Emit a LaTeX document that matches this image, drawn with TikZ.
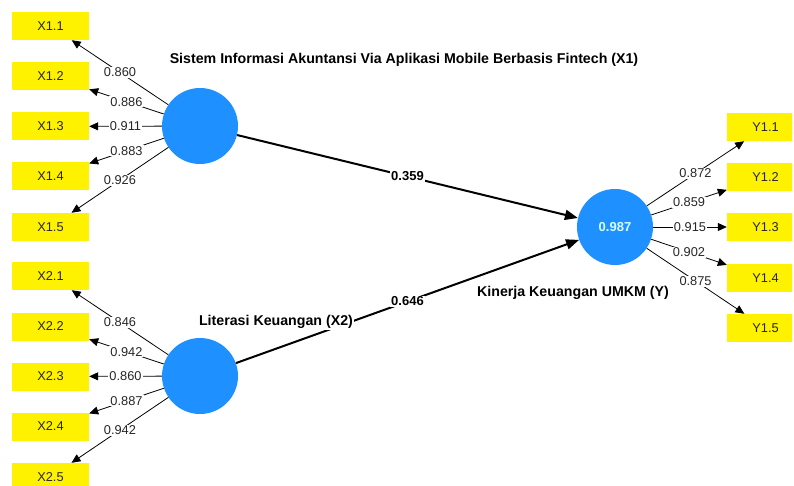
\documentclass[tikz,border=0pt]{standalone}
\usepackage{fontspec}
\setmainfont{Liberation Sans}
\usetikzlibrary{arrows.meta}
\definecolor{lvblue}{RGB}{30,144,255}
\definecolor{mvyellow}{RGB}{255,242,0}
\definecolor{rsqtext}{RGB}{215,255,255}
\tikzset{
  mv/.style={fill=mvyellow, minimum width=77pt, minimum height=28pt, inner sep=0pt, text=black!85},
  lv/.style={circle, fill=lvblue, minimum size=76pt, inner sep=0pt},
  load/.style={-{Triangle[length=9pt,width=8pt]}, line width=0.8pt},
  coef/.style={-{Triangle[length=13pt,width=10pt]}, line width=2pt},
  val/.style={fill=white, inner sep=1pt, text=black!85},
  coefval/.style={val, text=black, font=\fontsize{13}{15}\selectfont\bfseries},
  lvname/.style={fill=white, inner sep=1pt, font=\fontsize{14.2}{17}\selectfont\bfseries},
}
\begin{document}
\begin{tikzpicture}[x=1pt, y=-1pt, font=\fontsize{12.8}{15}\selectfont, line join=round]
  \useasboundingbox (0,0) rectangle (794,486);
  \begin{scope}
    \clip (0,0) rectangle (792,486);
    % latent variables
    \node[lv] (X1) at (200,126) {};
    \node[lv] (X2) at (200,376) {};
    \node[lv, text=rsqtext, font=\fontsize{13}{15}\selectfont\bfseries] (Y) at (615,227) {0.987};
    % indicators of X1
    \node[mv] (x11) at (50.5,26) {X1.1};
    \node[mv] (x12) at (50.5,76.5) {X1.2};
    \node[mv] (x13) at (50.5,126.5) {X1.3};
    \node[mv] (x14) at (50.5,176.5) {X1.4};
    \node[mv] (x15) at (50.5,227) {X1.5};
    % indicators of X2
    \node[mv] (x21) at (50.5,276) {X2.1};
    \node[mv] (x22) at (50.5,326.5) {X2.2};
    \node[mv] (x23) at (50.5,376.5) {X2.3};
    \node[mv] (x24) at (50.5,426.5) {X2.4};
    \node[mv] (x25) at (50.5,477) {X2.5};
    % indicators of Y
    \node[mv] (y11) at (765.5,127) {Y1.1};
    \node[mv] (y12) at (765.5,177) {Y1.2};
    \node[mv] (y13) at (765.5,227) {Y1.3};
    \node[mv] (y14) at (765.5,278) {Y1.4};
    \node[mv] (y15) at (765.5,328) {Y1.5};
    % outer loadings
    \draw[load] (X1) -- node[val] {0.860} (x11);
    \draw[load] (X1) -- node[val] {0.886} (x12);
    \draw[load] (X1) -- node[val] {0.911} (x13);
    \draw[load] (X1) -- node[val] {0.883} (x14);
    \draw[load] (X1) -- node[val] {0.926} (x15);
    \draw[load] (X2) -- node[val] {0.846} (x21);
    \draw[load] (X2) -- node[val] {0.942} (x22);
    \draw[load] (X2) -- node[val] {0.860} (x23);
    \draw[load] (X2) -- node[val] {0.887} (x24);
    \draw[load] (X2) -- node[val] {0.942} (x25);
    \draw[load] (Y) -- node[val] {0.872} (y11);
    \draw[load] (Y) -- node[val] {0.859} (y12);
    \draw[load] (Y) -- node[val] {0.915} (y13);
    \draw[load] (Y) -- node[val] {0.902} (y14);
    \draw[load] (Y) -- node[val] {0.875} (y15);
    % path coefficients
    \draw[coef] (X1) -- node[coefval] {0.359} (Y);
    \draw[coef] (X2) -- node[coefval] {0.646} (Y);
    % construct names
    \node[lvname] (nX1) at (404,60) {Sistem Informasi Akuntansi Via Aplikasi Mobile Berbasis Fintech (X1)};
    \node[lvname] (nX2) at (276,322) {Literasi Keuangan (X2)};
    \node[lvname] (nY) at (573,293) {Kinerja Keuangan UMKM (Y)};
  \end{scope}
\end{tikzpicture}
\end{document}
